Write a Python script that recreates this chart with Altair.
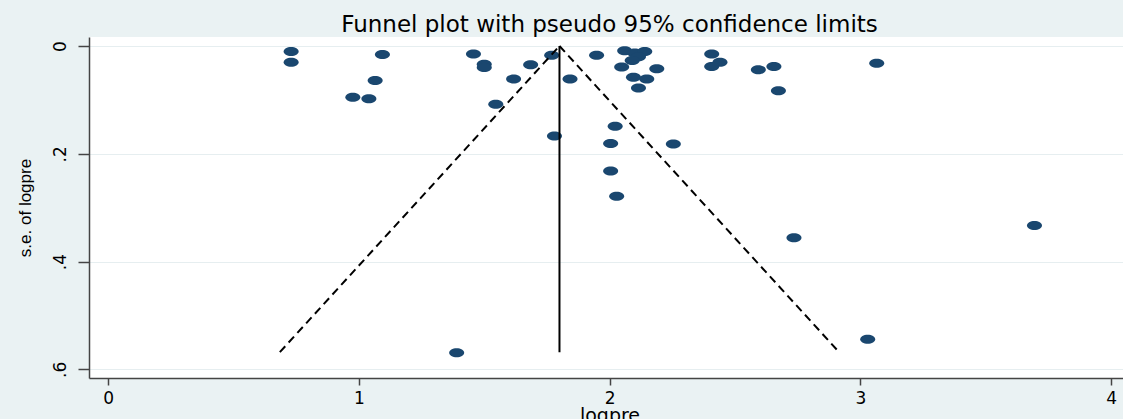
import altair as alt
import pandas as pd

# ---- data ----
logpre = [0.73, 0.73, 1.094, 1.065, 0.976, 1.04, 1.457, 1.50, 1.50, 1.685,
          1.617, 1.546, 1.769, 1.842, 1.948, 2.06, 2.10, 2.14, 2.115, 2.09,
          2.048, 2.188, 2.095, 2.148, 2.115, 2.407, 2.44, 2.407, 2.593, 2.655,
          2.673, 3.065, 1.780, 2.022, 2.004, 2.254, 2.004, 2.028, 2.735, 3.694,
          3.029, 1.39]
se_logpre = [0.010, 0.030, 0.016, 0.064, 0.095, 0.098, 0.015, 0.034, 0.040, 0.035,
             0.061, 0.108, 0.017, 0.061, 0.017, 0.009, 0.013, 0.010, 0.020, 0.027,
             0.039, 0.042, 0.058, 0.061, 0.078, 0.015, 0.030, 0.038, 0.044, 0.038,
             0.083, 0.032, 0.167, 0.149, 0.181, 0.182, 0.232, 0.279, 0.356, 0.333,
             0.544, 0.569]

pooled = [1.80]
se_top = [0.0]
se_bottom = [0.568]
lower_x = [1.80, 0.685]
upper_x = [1.80, 2.915]
limit_y = [0.0, 0.568]

x_ticks = [0, 1, 2, 3, 4]
y_ticks = [0, 0.2, 0.4, 0.6]

pts = pd.DataFrame({"logpre": logpre, "se": se_logpre})
lower = pd.DataFrame({"logpre": lower_x, "se": limit_y})
upper = pd.DataFrame({"logpre": upper_x, "se": limit_y})
vert = pd.DataFrame({"logpre": pooled, "se": se_top, "se2": se_bottom})

NAVY = "#1A476F"
xscale = alt.Scale(domain=[-0.076, 4.047], nice=False, zero=False)
yscale = alt.Scale(domain=[-0.0167, 0.616], nice=False, zero=False, reverse=True)

xaxis = alt.Axis(values=x_ticks, format="d", title="logpre", grid=False,
                 labelFont="DejaVu Sans", labelFontSize=17, labelColor="#000000",
                 labelFlush=False, labelOverlap=False, labelPadding=5,
                 tickSize=7, tickWidth=1.5, tickColor="#444444",
                 domainColor="#444444", domainWidth=1.5,
                 titleFont="DejaVu Sans", titleFontSize=19, titleFontWeight="normal",
                 titleColor="#000000", titleX=520.5, titleY=28,
                 titleBaseline="top", titleAlign="center")
yaxis = alt.Axis(values=y_ticks, title="s.e. of logpre",
                 labelExpr="datum.value == 0 ? '0' : replace(format(datum.value, '.1f'), '0.', '.')",
                 labelAngle=270, labelAlign="center", labelBaseline="alphabetic",
                 labelFont="DejaVu Sans", labelFontSize=17, labelColor="#000000",
                 labelFlush=False, labelOverlap=False, labelPadding=13,
                 tickSize=11, tickWidth=1.5, tickColor="#444444",
                 domainColor="#444444", domainWidth=1.5,
                 grid=True, gridColor="#E6EEF0", gridWidth=1.2,
                 titleFont="Liberation Sans", titleFontSize=17, titleFontWeight="normal",
                 titleColor="#000000", titleAngle=270, titleX=-64, titleY=170.5,
                 titleAlign="center", titleBaseline="middle")

ellipse = "M-1,0A1,0.6,0,1,1,1,0A1,0.6,0,1,1,-1,0Z"

points = alt.Chart(pts).mark_point(shape=ellipse, filled=True, opacity=1,
                                   color=NAVY, size=225, strokeWidth=0).encode(
    x=alt.X("logpre:Q", scale=xscale, axis=xaxis),
    y=alt.Y("se:Q", scale=yscale, axis=yaxis),
)

low_line = alt.Chart(lower).mark_line(color="black", strokeWidth=2,
                                      strokeDash=[8, 5]).encode(
    x=alt.X("logpre:Q", scale=xscale), y=alt.Y("se:Q", scale=yscale))
up_line = alt.Chart(upper).mark_line(color="black", strokeWidth=2,
                                     strokeDash=[8, 5]).encode(
    x=alt.X("logpre:Q", scale=xscale), y=alt.Y("se:Q", scale=yscale))
mid_line = alt.Chart(vert).mark_rule(color="black", strokeWidth=2).encode(
    x=alt.X("logpre:Q", scale=xscale), y=alt.Y("se:Q", scale=yscale),
    y2="se2:Q")

chart = alt.layer(points, low_line, up_line, mid_line).properties(
    width=1034, height=341,
    autosize=alt.AutoSizeParams(type="none"),
    padding={"left": 89, "top": 37, "right": 0, "bottom": 41},
    background="#EAF2F3",
    title=alt.TitleParams("Funnel plot with pseudo 95% confidence limits",
                          font="DejaVu Sans", fontSize=23, fontWeight="normal",
                          color="#000000", anchor="middle", frame="group",
                          baseline="alphabetic", offset=5, dx=3.5, dy=23),
).configure_view(fill="white", stroke=None)

chart.save("out.html", embed_options={"renderer": "svg", "actions": False})
